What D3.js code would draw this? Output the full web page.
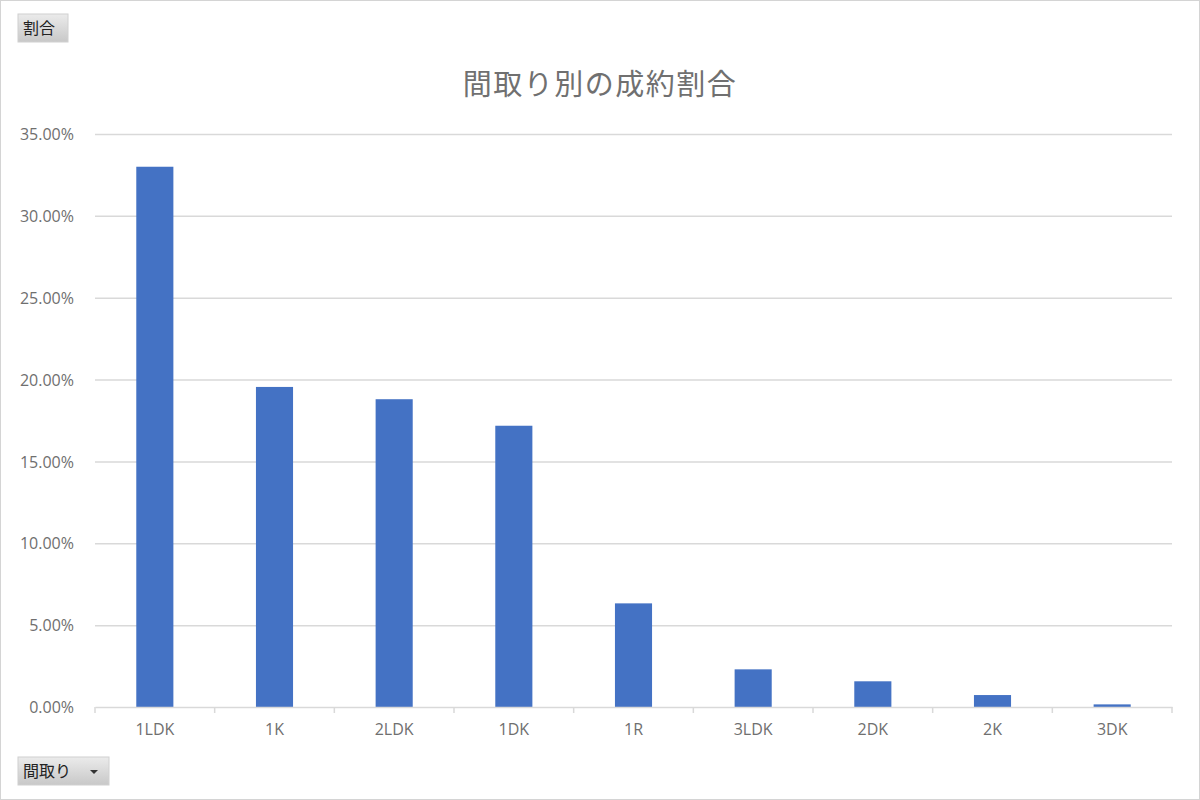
<!DOCTYPE html>
<html>
<head>
<meta charset="utf-8">
<script src="https://cdn.jsdelivr.net/npm/d3@7"></script>
<style>
  body { margin: 0; background: #fff; }
  svg { display: block; font-family: "Noto Sans CJK JP", "Noto Sans", sans-serif; }
  .grid line { stroke: #d9d9d9; stroke-width: 1.5; }
  .grid path { display: none; }
  .yAxis path, .yAxis line { display: none; }
  .yAxis text { fill: #6f6f6f; font-size: 16px; font-family: "Open Sans", "Noto Sans", sans-serif; }
  .xAxis path, .xAxis line { stroke: #d9d9d9; stroke-width: 1.5; }
  .xAxis text { fill: #6f6f6f; font-size: 16px; font-family: "Open Sans", "Noto Sans", sans-serif; }
</style>
</head>
<body>
<div id="chart"></div>
<script>
// data
var categories = ["1LDK", "1K", "2LDK", "1DK", "1R", "3LDK", "2DK", "2K", "3DK"];
var shares = [33.0, 19.55, 18.8, 17.18, 6.33, 2.3, 1.57, 0.73, 0.16];
var yTicks = [0, 5, 10, 15, 20, 25, 30, 35];

var width = 1200;
var height = 800;
var plotLeft = 95;
var plotRight = 1172;
var plotTop = 134;
var plotBottom = 707;

var svg = d3.select("#chart")
  .append("svg")
  .attr("width", width)
  .attr("height", height);

// outer frame
svg.append("rect")
  .attr("x", 0.5).attr("y", 0.5)
  .attr("width", width - 1).attr("height", height - 1)
  .attr("fill", "#fff")
  .attr("stroke", "#d4d4d4");

var defs = svg.append("defs");
var grad = defs.append("linearGradient")
  .attr("id", "btnGrad")
  .attr("x1", 0).attr("y1", 0).attr("x2", 0).attr("y2", 1);
grad.append("stop").attr("offset", "0%").attr("stop-color", "#ebebeb");
grad.append("stop").attr("offset", "100%").attr("stop-color", "#c8c8c8");

var xScale = d3.scaleBand()
  .domain(categories)
  .range([plotLeft, plotRight])
  .paddingInner(0.69)
  .paddingOuter(0.345);

var yScale = d3.scaleLinear()
  .domain([0, 35])
  .range([plotBottom, plotTop]);

// gridlines
svg.append("g")
  .attr("class", "grid")
  .attr("transform", "translate(" + plotLeft + ",0)")
  .call(d3.axisLeft(yScale).tickValues(yTicks.slice(1)).tickSize(-(plotRight - plotLeft)).tickFormat(""));

// y axis labels
svg.append("g")
  .attr("class", "yAxis")
  .attr("transform", "translate(" + (plotLeft - 18) + ",0)")
  .call(d3.axisLeft(yScale).tickValues(yTicks).tickSize(0)
    .tickFormat(function(d) { return d.toFixed(2) + "%"; }))
  .selectAll("text").attr("dy", "0.35em");

// bars
svg.selectAll(".bar")
  .data(categories)
  .enter()
  .append("rect")
  .attr("class", "bar")
  .attr("x", function(d) { return xScale(d); })
  .attr("width", xScale.bandwidth())
  .attr("y", function(d, i) { return yScale(shares[i]); })
  .attr("height", function(d, i) { return plotBottom - yScale(shares[i]); })
  .attr("fill", "#4472c4");

// x axis with ticks between categories
var xAxisG = svg.append("g")
  .attr("class", "xAxis")
  .attr("transform", "translate(0," + plotBottom + ")")
  .call(d3.axisBottom(xScale).tickSize(0).tickSizeOuter(0).tickPadding(17));

var boundaries = d3.range(categories.length + 1).map(function(i) { return plotLeft + i * (plotRight - plotLeft) / categories.length; });
xAxisG.selectAll(".sep")
  .data(boundaries)
  .enter()
  .append("line")
  .attr("class", "sep")
  .attr("x1", function(d) { return d; })
  .attr("x2", function(d) { return d; })
  .attr("y1", 0)
  .attr("y2", 6);

// title
svg.append("text")
  .attr("x", 600)
  .attr("y", 95)
  .attr("text-anchor", "middle")
  .attr("fill", "#707070")
  .attr("font-size", "29px")
  .attr("letter-spacing", "1.5px")
  .text("間取り別の成約割合");

// field buttons
function fieldButton(x, y, w, h, label, arrow) {
  var g = svg.append("g").attr("transform", "translate(" + x + "," + y + ")");
  g.append("rect")
    .attr("width", w).attr("height", h)
    .attr("fill", "url(#btnGrad)")
    .attr("stroke", "#d0d0d0");
  g.append("text")
    .attr("x", 5).attr("y", h / 2 + 6)
    .attr("font-size", "16px")
    .attr("fill", "#222")
    .text(label);
  if (arrow) {
    g.append("path")
      .attr("d", "M" + (w - 19) + "," + (h / 2 - 1) + "l8,0l-4,4z")
      .attr("fill", "#333");
  }
}
fieldButton(18, 14, 50, 28, "割合", false);
fieldButton(18, 757, 91, 28, "間取り", true);
</script>
</body>
</html>
